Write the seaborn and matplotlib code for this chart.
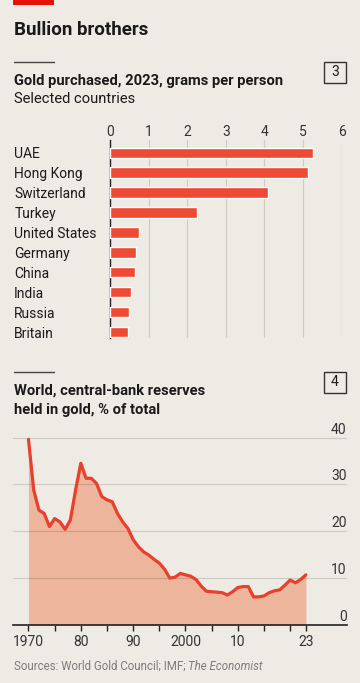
import matplotlib
matplotlib.use("Agg")
import matplotlib.pyplot as plt
import matplotlib.transforms as mtransforms
from matplotlib.lines import Line2D
from matplotlib.patches import Rectangle
import seaborn as sns

# chart 3: gold purchased per person, 2023
countries = ["UAE", "Hong Kong", "Switzerland", "Turkey", "United States",
             "Germany", "China", "India", "Russia", "Britain"]
grams_per_person = [5.26, 5.14, 4.08, 2.24, 0.75, 0.68, 0.65, 0.54, 0.49, 0.46]
bar_ticks = [0, 1, 2, 3, 4, 5, 6]

# chart 4: central-bank reserves held in gold, % of total
years = list(range(1970, 2024))
gold_share = [39.6, 28.8, 24.5, 23.8, 21.0, 22.7, 22.0, 20.4, 22.4, 28.8,
              34.5, 31.3, 31.3, 30.2, 27.4, 26.7, 26.3, 23.8, 22.0, 20.6,
              18.2, 16.7, 15.6, 14.9, 14.0, 13.2, 11.9, 10.0, 10.2, 11.0,
              10.7, 10.4, 9.7, 8.3, 7.2, 7.1, 7.0, 6.9, 6.4, 7.1,
              8.0, 8.2, 8.2, 6.0, 6.0, 6.2, 6.9, 7.3, 7.5, 8.5,
              9.6, 9.0, 9.7, 10.7]
share_ticks = [0, 10, 20, 30, 40]
year_ticks = [1970, 1980, 1990, 2000, 2010, 2023]
year_labels = ["1970", "80", "90", "2000", "10", "23"]
minor_years = [1975, 1985, 1995, 2005, 2015, 2020]

BG = "#EDEBE4"
RED = "#EE4A33"
FILL = "#EDB59C"
INK = "#1A1A1A"
GRID = "#CFCCC4"
W, H = 360, 683

sns.set_theme(style="white")
plt.rcParams["font.family"] = ["Roboto", "DejaVu Sans"]
plt.rcParams["axes.facecolor"] = "none"


def rect(left, top, width, height):
    return [left / W, 1 - (top + height) / H, width / W, height / H]


def fx(px):
    return px / W


def fy(py):
    return 1 - py / H


fig = plt.figure(figsize=(W / 100, H / 100), dpi=100, facecolor=BG)

# header decorations
fig.add_artist(Rectangle((fx(13.3), fy(5.3)), fx(54) - fx(13.3), fy(0) - fy(5.3),
                         transform=fig.transFigure, color="#E3120B", lw=0))
fig.text(fx(14), fy(34.7), "Bullion brothers", fontsize=13.5, fontweight="bold",
         color=INK, va="baseline")


def section_head(line_y, lines, box_label):
    fig.add_artist(Line2D([fx(14), fx(54)], [fy(line_y), fy(line_y)],
                          transform=fig.transFigure, color="#444444", lw=1))
    fig.add_artist(Rectangle((fx(324), fy(line_y + 21.6)), fx(346) - fx(324),
                             fy(line_y) - fy(line_y + 21.6), transform=fig.transFigure,
                             fill=False, ec="#333333", lw=1))
    fig.text(fx(335), fy(line_y + 10.8), box_label, fontsize=10, color=INK,
             ha="center", va="center")
    for text, base, weight in lines:
        fig.text(fx(14), fy(base), text, fontsize=10.6, fontweight=weight,
                 color=INK, va="baseline")


section_head(61.7, [("Gold purchased, 2023, grams per person", 85, "bold"),
                    ("Selected countries", 103.3, "normal")], "3")
section_head(371.7, [("World, central-bank reserves", 395, "bold"),
                     ("held in gold, % of total", 414, "bold")], "4")

# bar chart
ax = fig.add_axes(rect(110, 140, 231.7, 198))
sns.barplot(x=grams_per_person, y=countries, color=RED, saturation=1,
            width=0.52, ax=ax, zorder=3)
ax.set_xlim(0, 6)
ax.set_ylim(9.3, -0.64)
ax.set_xticks(bar_ticks, [str(t) for t in bar_ticks])
ax.xaxis.tick_top()
ax.tick_params(axis="x", length=0, pad=1, labelsize=10, labelcolor="#333333")
ax.set_yticks(range(len(countries)), countries, ha="left")
ax.tick_params(axis="y", length=0, pad=69, labelsize=10, labelcolor=INK)
ax.xaxis.grid(True, color=GRID, lw=0.9)
ax.set_axisbelow(True)
for side in ["top", "right", "bottom"]:
    ax.spines[side].set_visible(False)
ax.spines["left"].set_color("#222222")
ax.spines["left"].set_linewidth(1)
ax.set_xlabel("")
ax.set_ylabel("")

# line chart
ax2 = fig.add_axes(rect(13.3, 430, 333.4, 195))
ax2.fill_between(years, gold_share, 0, color=FILL, lw=0, zorder=1)
sns.lineplot(x=years, y=gold_share, color="#E8402C", lw=2.3, ax=ax2, zorder=3)
ax2.set_xlim(1967.1, 2030.8)
ax2.set_ylim(0, 41.6)
ax2.set_yticks([])
for v in share_ticks[1:]:
    ax2.axhline(v, color="black", alpha=0.13, lw=0.9, zorder=2)
offset = mtransforms.ScaledTranslation(0, 4 / 100, fig.dpi_scale_trans)
trans = mtransforms.blended_transform_factory(ax2.transAxes, ax2.transData) + offset
for v in share_ticks:
    ax2.text(1.0, v, str(v), transform=trans, ha="right", va="baseline",
             fontsize=10, color="#333333", clip_on=False)
ax2.set_xticks(year_ticks, year_labels)
ax2.set_xticks(minor_years, minor=True)
ax2.tick_params(axis="x", which="both", direction="out", length=4.3, width=1,
                color="#222222", pad=3, labelsize=10, labelcolor="#333333", bottom=True)
for side in ["top", "right", "left"]:
    ax2.spines[side].set_visible(False)
ax2.spines["bottom"].set_color("#222222")
ax2.spines["bottom"].set_linewidth(1.2)
ax2.set_xlabel("")
ax2.set_ylabel("")

src = fig.text(fx(14), fy(673), "Sources: World Gold Council; IMF; ", fontsize=8.3,
               color="#7C7C7C", va="bottom")
fig.add_artist(plt.Annotation("The Economist", xy=(1, 0), xycoords=src,
                              fontsize=8.3, color="#7C7C7C", style="italic",
                              va="bottom", ha="left"))

fig.savefig("out.png", dpi=100, facecolor=BG)
